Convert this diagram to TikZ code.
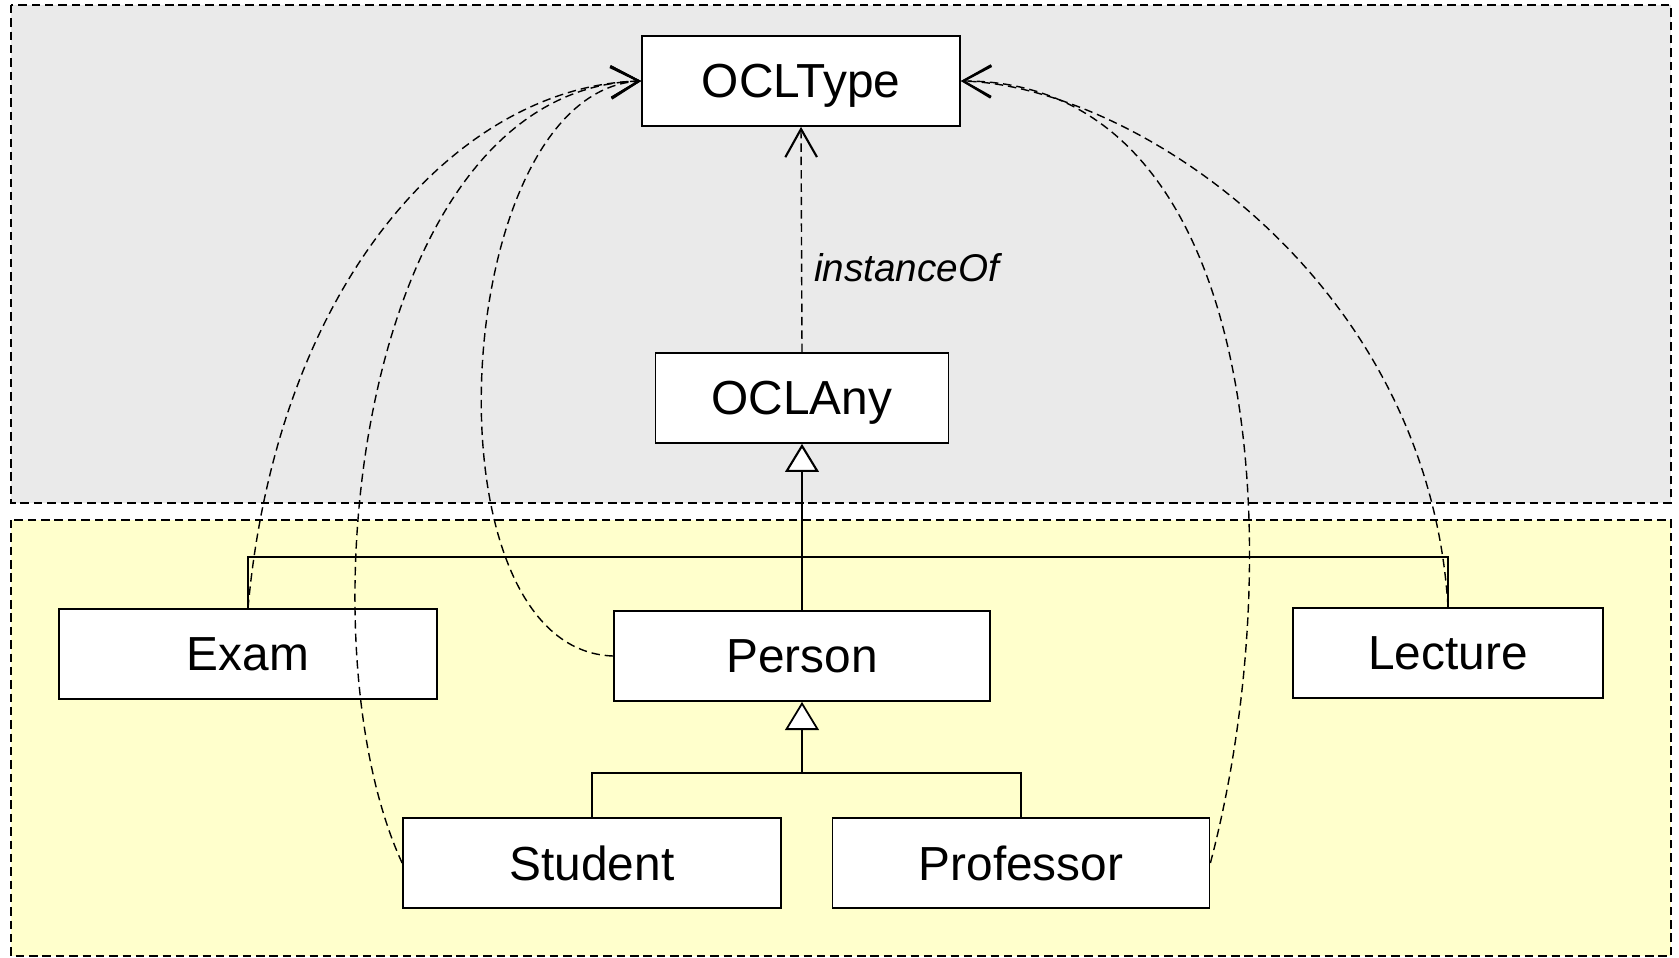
\documentclass[tikz,border=0pt]{standalone}
\usepackage{fontspec}
\setmainfont{Liberation Sans}
\usetikzlibrary{arrows.meta}
\definecolor{pkgyellow}{RGB}{255,255,204}
\definecolor{pkggray}{RGB}{234,234,234}

\begin{document}
\begin{tikzpicture}[
    x=0.1mm,
    y=-0.1mm,
    cls/.style={draw, fill=white, line width=0.5pt, minimum height=9mm, inner sep=0pt,
        text depth=0pt, font=\fontsize{13.6}{16}\selectfont},
    dashline/.style={dash pattern=on 2.4pt off 1.4pt, line width=0.4pt},
    dep/.style={dashline, -{Straight Barb[length=8pt, width=9pt, line width=0.6pt]}},
    gen/.style={-{Triangle[fill=white, length=8pt, width=9.6pt]}, line width=0.5pt}
]
    \useasboundingbox (0,0) rectangle (1679,958);
    \filldraw[fill=pkggray, dashline] (11,5) rectangle (1671,503);
    \filldraw[fill=pkgyellow, dashline] (11,520) rectangle (1671,956);

    \node[cls, minimum width=31.8mm] (ocltype) at (801,81) {OCLType};
    \node[cls, minimum width=29.3mm] (oclany) at (802,398) {OCLAny};
    \node[cls, minimum width=37.8mm] (exam) at (248,654) {Exam};
    \node[cls, minimum width=37.6mm] (person) at (802,656) {Person};
    \node[cls, minimum width=31mm] (lecture) at (1448,653) {Lecture};
    \node[cls, minimum width=37.8mm] (student) at (592,863) {Student};
    \node[cls, minimum width=37.7mm] (professor) at (1021,863) {Professor};

    \coordinate (top bus) at (802,557);
    \coordinate (low bus) at (802,773);

    \draw[gen, line width=0.6pt] (top bus) -- (oclany.south);
    \draw[line width=0.4pt] (exam.north) |- (top bus) -| (lecture.north);
    \draw[line width=0.4pt] (person.north) -- (top bus);
    \draw[gen] (low bus) -- (person.south);
    \draw[line width=0.4pt] (student.north) |- (low bus) -| (professor.north);

    \draw[dep] (oclany.north) -- (ocltype.south)
        node[pos=0.374, right, font=\fontsize{11}{13}\selectfont\itshape] (instlabel) {instanceOf};
    \draw[dep] (exam.north) .. controls +(30,-330) and +(-180,5) .. (ocltype.west);
    \draw[dep] (student.west) .. controls +(-103,-223) and +(-282,9) .. (ocltype.west);
    \draw[dep] (person.west) .. controls +(-194,-6) and +(-192,12) .. (ocltype.west);
    \draw[dep] (lecture.north) .. controls +(-20,-330) and +(170,5) .. (ocltype.east);
    \draw[dep] (professor.east) .. controls +(80,-303) and +(305,0) .. (ocltype.east);
\end{tikzpicture}
\end{document}
